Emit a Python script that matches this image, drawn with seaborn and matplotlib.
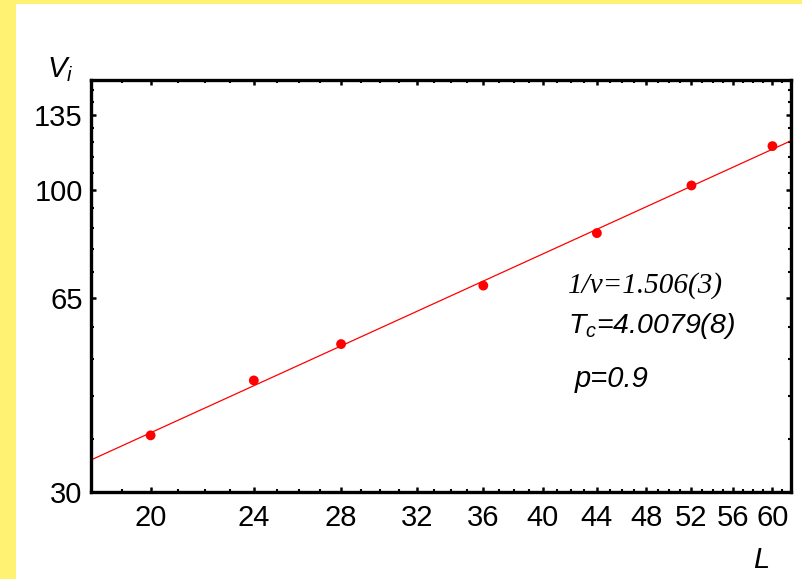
import numpy as np
import pandas as pd
import matplotlib
matplotlib.use("Agg")
import matplotlib.pyplot as plt
from matplotlib.patches import Rectangle
from matplotlib.ticker import NullFormatter
import seaborn as sns

# Lattice sizes and measured V_i values
L_values = [20, 24, 28, 36, 44, 52, 60]
V_values = [37.6, 46.8, 54.1, 68.3, 84.2, 101.8, 119.1]

x_major = [20, 24, 28, 32, 36, 40, 44, 48, 52, 56, 60]
x_minor = list(range(18, 63))
y_major = [30, 65, 100, 135]
y_minor = list(range(30, 156, 7))

x_range = (18, 62)
y_range = (30, 155)

sns.set_theme(style="ticks")
plt.rcParams["font.family"] = ["Liberation Sans", "DejaVu Sans"]
plt.rcParams["mathtext.fontset"] = "custom"
plt.rcParams["mathtext.it"] = "Liberation Sans:italic"
plt.rcParams["mathtext.rm"] = "Liberation Sans"

fig = plt.figure(figsize=(8.02, 5.79), dpi=100, facecolor="white")
ax = fig.add_axes([91 / 802, 87 / 579, 700 / 802, 412 / 579])
ax.set_facecolor("white")

# yellow frame strips
yellow = "#FFF273"
fig.patches.append(Rectangle((0, 0), 16 / 802, 1, transform=fig.transFigure,
                             facecolor=yellow, edgecolor="none", zorder=0))
fig.patches.append(Rectangle((0, 1 - 4 / 579), 1, 4 / 579, transform=fig.transFigure,
                             facecolor=yellow, edgecolor="none", zorder=0))

df = pd.DataFrame({"L": L_values, "V": V_values})

# power-law fit in log-log space
slope, intercept = np.polyfit(np.log(df["L"]), np.log(df["V"]), 1)
fit = pd.DataFrame({"L": np.linspace(x_range[0], x_range[1], 200)})
fit["V"] = np.exp(intercept) * fit["L"] ** slope

sns.lineplot(data=fit, x="L", y="V", ax=ax, color="#FF0000", linewidth=0.9, zorder=2)
sns.scatterplot(data=df, x="L", y="V", ax=ax, color="#FF0000", s=50,
                edgecolor="none", zorder=3)

ax.set_xscale("log")
ax.set_yscale("log")
ax.set_xlim(*x_range)
ax.set_ylim(*y_range)

ax.set_xticks(x_major)
ax.set_xticklabels([str(v) for v in x_major])
ax.set_xticks(x_minor, minor=True)
ax.xaxis.set_minor_formatter(NullFormatter())
ax.set_yticks(y_major)
ax.set_yticklabels([str(v) for v in y_major])
ax.set_yticks(y_minor, minor=True)
ax.yaxis.set_minor_formatter(NullFormatter())

ax.tick_params(which="major", direction="in", length=3.5, width=1.8, color="black",
               top=True, right=True, labelsize=21, labelcolor="black")
ax.tick_params(axis="x", which="major", pad=9)
ax.tick_params(axis="y", which="major", pad=6)
ax.tick_params(which="minor", direction="in", length=2, width=1.5, color="black",
               top=True, right=True)

for sp in ax.spines.values():
    sp.set_linewidth(2.4)
    sp.set_color("black")

ax.set_xlabel("")
ax.set_ylabel("")

# axis titles
fig.text(47 / 802, 1 - 77 / 579, r"$V_i$", fontsize=21, color="black", va="baseline")
fig.text(753 / 802, 1 - 568 / 579, "L", fontsize=21, style="italic", color="black",
         va="baseline")

# fit results
fig.text(568 / 802, 1 - 293 / 579, "1/\u03bd=1.506(3)", fontsize=21, style="italic",
         family=["Liberation Serif", "DejaVu Serif"], color="black", va="baseline")
fig.text(568 / 802, 1 - 333 / 579, r"$T_c$=4.0079(8)", fontsize=20.5, style="italic",
         color="black", va="baseline")
fig.text(575 / 802, 1 - 387 / 579, "p=0.9", fontsize=21, style="italic",
         color="black", va="baseline")

fig.savefig("out.png", dpi=100, facecolor="white")
